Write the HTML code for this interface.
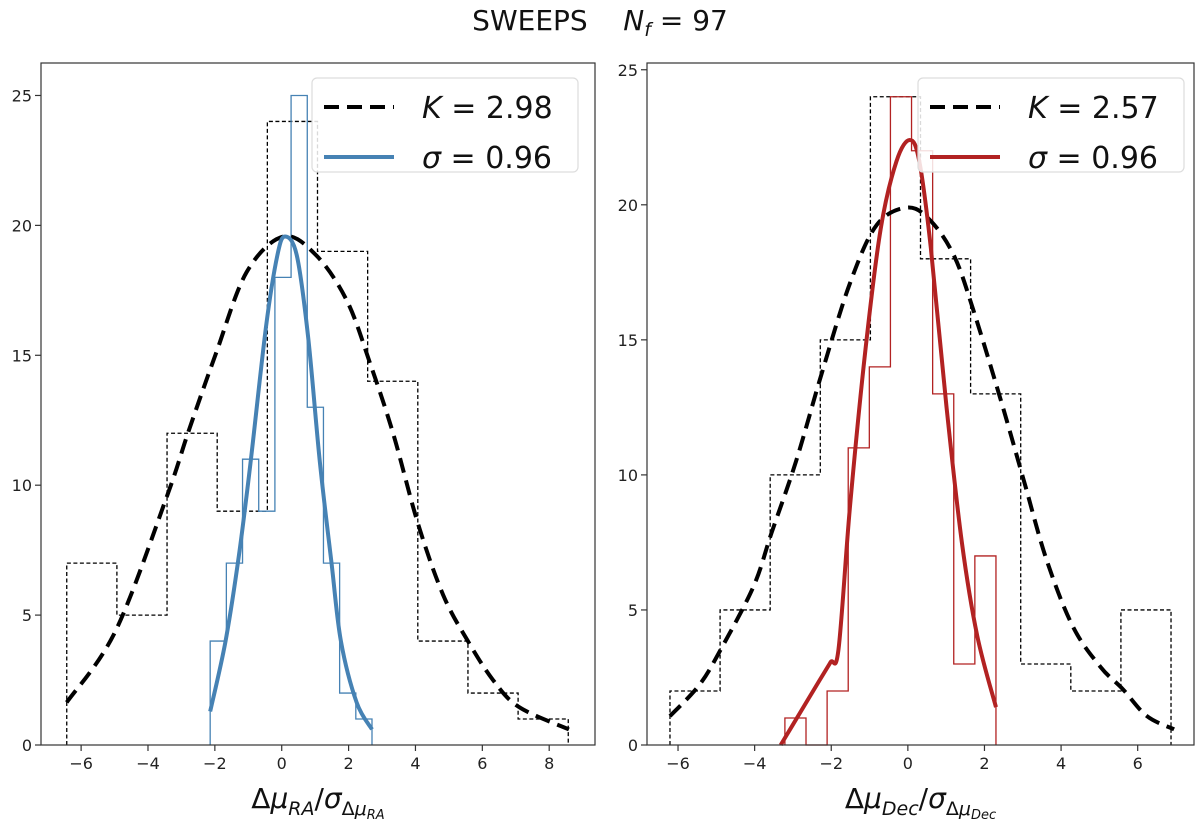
<!DOCTYPE html>
<html><head><meta charset="utf-8"><style>
body{margin:0;background:#fff;}
svg{display:block;font-family:"DejaVu Sans","Liberation Sans",sans-serif;}
</style></head><body>
<svg id="fig" width="1200" height="827" viewBox="0 0 1200 827" xmlns="http://www.w3.org/2000/svg">
<text x="600" y="30" text-anchor="middle" font-size="28" fill="#111" xml:space="preserve">SWEEPS    <tspan font-style="italic">N</tspan><tspan font-style="italic" font-size="19" dy="6">f</tspan><tspan dy="-6"> = 97</tspan></text>
<g id="left"></g>
<g id="right"></g>
</svg>
<script>
// ---- Left panel data (RA) ----
const raBlackEdge0 = -6.43, raBlackWidth = 1.5;
const raBlackCounts = [7,5,12,9,24,19,14,4,2,1];
const raBlueEdge0 = -2.14, raBlueWidth = 0.484;
const raBlueCounts = [4,7,11,9,18,25,13,7,2,1];
const raBlackCurveX = [-6.43,-4.97,-3.44,-2.78,-1.97,-1.05,0.05,1.03,1.95,2.64,3.33,4.08,4.83,5.55,6.32,7.1,8.59];
const raBlackCurveY = [1.64,4.39,9.55,12.1,15.06,18.2,19.57,18.85,17.1,14.7,12.0,8.5,5.77,4.04,2.5,1.46,0.6];
const raBlueCurveX = [-2.14,-1.68,-1.28,-0.93,-0.47,-0.13,0.10,0.45,0.79,1.14,1.49,1.77,2.24,2.70];
const raBlueCurveY = [1.29,4.0,7.3,10.9,16.1,18.85,19.57,18.85,15.7,10.9,7.0,4.0,1.64,0.6];
const raXTicks = [-6,-4,-2,0,2,4,6,8];
const raYTicks = [0,5,10,15,20,25];
// ---- Right panel data (Dec) ----
const decBlackEdge0 = -6.21, decBlackWidth = 1.308;
const decBlackCounts = [2,5,10,15,24,18,13,3,2,5];
const decRedEdge0 = -3.21, decRedWidth = 0.551;
const decRedCounts = [1,0,2,11,14,24,22,13,3,7];
const decBlackCurveX = [-6.21,-5.44,-4.88,-4.03,-3.56,-2.92,-2.24,-1.51,-0.81,0.0,0.6,1.21,1.71,2.42,3.02,3.62,4.31,5.03,5.61,6.24,6.95];
const decBlackCurveY = [1.07,2.23,3.55,5.87,7.85,10.5,13.8,17.1,19.26,19.9,19.4,18.1,16.1,12.8,9.83,6.86,4.38,2.89,2.07,1.07,0.58];
const decRedCurveX = [-3.32,-2.82,-2.32,-2.02,-1.81,-1.51,-1.11,-0.71,-0.30,0.05,0.30,0.60,1.01,1.41,1.81,2.30];
const decRedCurveY = [0,1.18,2.36,3.06,3.55,8.84,14.6,19.1,21.6,22.4,21.6,18.4,12.5,7.5,4.05,1.4];
const decXTicks = [-6,-4,-2,0,2,4,6];
const decYTicks = [0,5,10,15,20,25];

const NS="http://www.w3.org/2000/svg";
function mk(parent,tag,attrs){const e=document.createElementNS(NS,tag);for(const k in attrs)e.setAttribute(k,attrs[k]);parent.appendChild(e);return e;}
function smooth(P){
  let d=`M${P[0][0]},${P[0][1]}`;
  for(let i=0;i<P.length-1;i++){
    const p0=P[Math.max(0,i-1)],p1=P[i],p2=P[i+1],p3=P[Math.min(P.length-1,i+2)];
    const c1=[p1[0]+(p2[0]-p0[0])/6,p1[1]+(p2[1]-p0[1])/6];
    const c2=[p2[0]-(p3[0]-p1[0])/6,p2[1]-(p3[1]-p1[1])/6];
    d+=` C${c1[0]},${c1[1]} ${c2[0]},${c2[1]} ${p2[0]},${p2[1]}`;
  }
  return d;
}
function panel(g,o){
  const X=v=>o.px0+(v-o.x0)*(o.px1-o.px0)/(o.x1-o.x0);
  const Y=v=>o.py0-(v-o.y0)*(o.py0-o.py1)/(o.y1-o.y0);
  function hist(edge0,w,counts,stroke,dash,name){
    let d=`M${X(edge0)},${Y(0)}`;
    counts.forEach((c,i)=>{d+=` L${X(edge0+i*w)},${Y(c)} L${X(edge0+(i+1)*w)},${Y(c)}`;});
    d+=` L${X(edge0+counts.length*w)},${Y(0)}`;
    const p=mk(g,'path',{d:d,fill:'none',stroke:stroke,'stroke-width':1.3});
    if(dash)p.setAttribute('stroke-dasharray',dash);
    
    
  }
  hist(o.bE0,o.bW,o.bC,'#000','4,2.5',o.tag+'-wide-histogram');
  hist(o.cE0,o.cW,o.cC,o.color,null,o.tag+'-narrow-histogram');
  function curve(xs,ys,stroke,dash,name){
    const P=xs.map((x,i)=>[X(x),Y(ys[i])]);
    const p=mk(g,'path',{d:smooth(P),fill:'none',stroke:stroke,'stroke-width':4,'stroke-linejoin':'round'});
    if(dash)p.setAttribute('stroke-dasharray',dash);
    
    
  }
  curve(o.bcx,o.bcy,'#000','15,8',o.tag+'-kurtosis-fit-curve');
  curve(o.ccx,o.ccy,o.color,null,o.tag+'-gaussian-fit-curve');
  const fr=mk(g,'rect',{x:o.px0,y:o.py1,width:o.px1-o.px0,height:o.py0-o.py1,fill:'none',stroke:'#333','stroke-width':1.2});
  
  
  o.xt.forEach(t=>{
    const x=X(t);
    mk(g,'line',{x1:x,x2:x,y1:o.py0,y2:o.py0+6,stroke:'#333','stroke-width':1.2});
    const tx=mk(g,'text',{x:x,y:o.py0+24,'text-anchor':'middle','font-size':16,fill:'#222'});
    tx.textContent=(t<0?'\u2212'+(-t):''+t);
    
    
  });
  o.yt.forEach(t=>{
    const y=Y(t);
    mk(g,'line',{x1:o.px0-6,x2:o.px0,y1:y,y2:y,stroke:'#333','stroke-width':1.2});
    const tx=mk(g,'text',{x:o.px0-9,y:y+6,'text-anchor':'end','font-size':16,fill:'#222'});
    tx.textContent=''+t;
    
    
  });
  const lg=mk(g,'g',{});
  
  
  mk(lg,'rect',{x:o.lx,y:78,width:266,height:94,rx:5,fill:'#fff','fill-opacity':0.85,stroke:'#ddd','stroke-width':1.2});
  mk(lg,'line',{x1:o.lx+12,x2:o.lx+82,y1:107,y2:107,stroke:'#000','stroke-width':4,'stroke-dasharray':'15,8'});
  mk(lg,'line',{x1:o.lx+12,x2:o.lx+82,y1:157,y2:157,stroke:o.color,'stroke-width':4});
  const t1=mk(lg,'text',{x:o.lx+110,y:118,'font-size':30,fill:'#111'});
  t1.innerHTML='<tspan font-style="italic">K</tspan> = '+o.K;
  
  
  const t2=mk(lg,'text',{x:o.lx+110,y:168,'font-size':30,fill:'#111'});
  t2.innerHTML='<tspan font-style="italic">σ</tspan> = '+o.S;
  
  
  const xl=mk(g,'text',{x:(o.px0+o.px1)/2,y:808,'text-anchor':'middle','font-size':28,fill:'#111'});
  xl.innerHTML='Δ<tspan font-style="italic">μ</tspan><tspan font-style="italic" font-size="19" dy="7">'+o.sub+'</tspan><tspan dy="-7">/</tspan><tspan font-style="italic">σ</tspan><tspan font-size="19" dy="7">Δ</tspan><tspan font-style="italic" font-size="19">μ</tspan><tspan font-style="italic" font-size="13" dy="4">'+o.sub+'</tspan>';
  
  
}
panel(document.getElementById('left'),{tag:'ra',px0:41,px1:595,py0:745,py1:63,x0:-7.2,x1:9.37,y0:0,y1:26.25,
  bE0:raBlackEdge0,bW:raBlackWidth,bC:raBlackCounts,cE0:raBlueEdge0,cW:raBlueWidth,cC:raBlueCounts,
  bcx:raBlackCurveX,bcy:raBlackCurveY,ccx:raBlueCurveX,ccy:raBlueCurveY,color:'#4682b4',
  xt:raXTicks,yt:raYTicks,lx:312,K:'2.98',S:'0.96',sub:'RA'});
panel(document.getElementById('right'),{tag:'dec',px0:647,px1:1194,py0:745,py1:63,x0:-6.81,x1:7.47,y0:0,y1:25.25,
  bE0:decBlackEdge0,bW:decBlackWidth,bC:decBlackCounts,cE0:decRedEdge0,cW:decRedWidth,cC:decRedCounts,
  bcx:decBlackCurveX,bcy:decBlackCurveY,ccx:decRedCurveX,ccy:decRedCurveY,color:'#b22222',
  xt:decXTicks,yt:decYTicks,lx:918,K:'2.57',S:'0.96',sub:'Dec'});
</script>
</body></html>
